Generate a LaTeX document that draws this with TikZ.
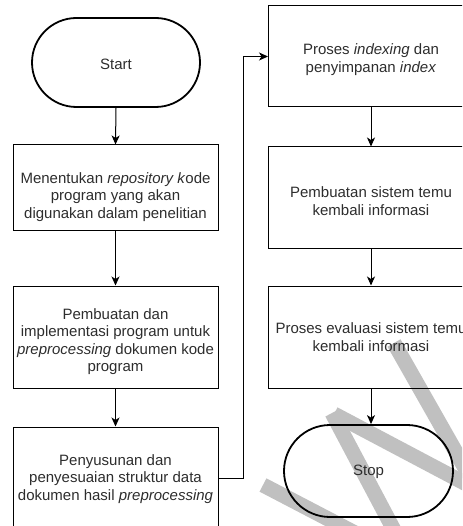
\documentclass[tikz,border=0pt]{standalone}
\usepackage{fontspec}
\setmainfont{Liberation Sans}
\usetikzlibrary{arrows.meta,shapes.misc}
\definecolor{wm}{RGB}{192,192,192}
\definecolor{txtc}{RGB}{45,45,45}
\begin{document}
\begin{tikzpicture}[x=1pt,y=-1pt,
  box/.style={draw=black, line width=1pt, minimum width=205pt, inner sep=0pt},
  term/.style={draw=black, line width=1.8pt, rounded rectangle, minimum width=168pt, minimum height=89pt, inner sep=0pt},
  lbl/.style={text=txtc, align=center, inner sep=0pt, font=\fontsize{15}{17.5}\selectfont},
  conn/.style={line width=1pt, -{Stealth[length=9pt,width=8pt,inset=2.5pt]}},
  band/.style={wm, line width=15pt}]
\clip (0,0) rectangle (462,526);
% watermark
\draw[band] (394,343) -- (482,498);
\draw[band] (332,413) -- (395,532);
\draw[band] (334,414) -- (472,487);
\draw[band] (263,485) -- (355,533);
% nodes
\node[term] (start) at (116,62.5) {};
\node[lbl] (ts) at (116,64) {Start};
\node[box, minimum height=85pt] (b1) at (115.5,187.5) {};
\node[lbl] (t1) at (115.5,197) {Menentukan \textit{repository k}ode\\program yang akan\\digunakan dalam penelitian};
\node[box, minimum height=102pt] (b2) at (115.5,337) {};
\node[lbl] (t2) at (115.5,341.5) {Pembuatan dan\\implementasi program untuk\\\textit{preprocessing} dokumen kode\\program};
\node[box, minimum height=102pt] (b3) at (115.5,478) {};
\node[lbl] (t3) at (115.5,479) {Penyusunan dan\\penyesuaian struktur data\\dokumen hasil \textit{preprocessing}};
\node[box, minimum height=101pt] (b4) at (371,56.5) {};
\node[lbl] (t4) at (371,59.5) {Proses \textit{indexing} dan\\penyimpanan \textit{index}};
\node[box, minimum height=101pt] (b5) at (371,197.5) {};
\node[lbl] (t5) at (371,201) {Pembuatan sistem temu\\kembali informasi};
\node[box, minimum height=102pt] (b6) at (371,337) {};
\node[lbl] (t6) at (371,337) {Proses evaluasi sistem temu\\kembali informasi};
\node[term, minimum width=169pt, minimum height=92pt] (stop) at (368.5,471) {};
\node[lbl] (tst) at (368.5,472) {Stop};
% connectors
\draw[conn] (start.south) -- (b1.north);
\draw[conn] (b1.south) -- (b2.north);
\draw[conn] (b2.south) -- (b3.north);
\draw[conn] (b3.east) -- ++(25,0) |- (b4.west);
\draw[conn] (b4.south) -- (b5.north);
\draw[conn] (b5.south) -- (b6.north);
\draw[conn] (b6.south) -- (b6.south |- stop.north);
\end{tikzpicture}
\end{document}
